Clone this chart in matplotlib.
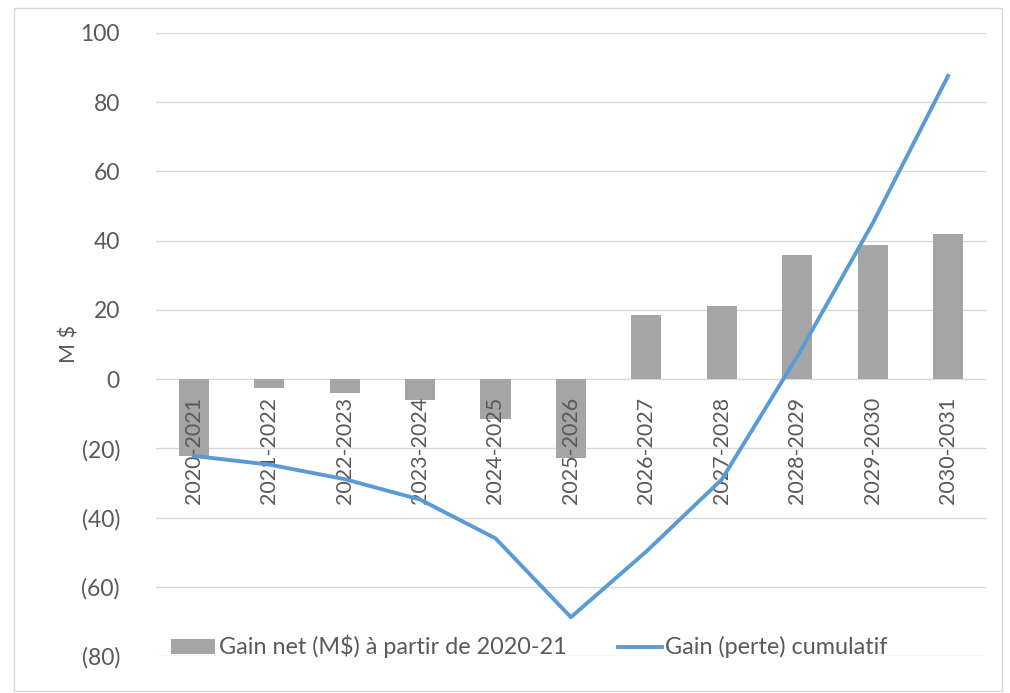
import matplotlib

matplotlib.use("Agg")
import matplotlib.pyplot as plt
from matplotlib.ticker import FuncFormatter

periods = [
    "2020-2021", "2021-2022", "2022-2023", "2023-2024", "2024-2025", "2025-2026",
    "2026-2027", "2027-2028", "2028-2029", "2029-2030", "2030-2031",
]
net_gain = [-22.2, -2.5, -4.0, -6.1, -11.5, -22.9, 18.6, 21.0, 35.8, 38.7, 41.8]
cumulative = [-22.2, -24.7, -28.9, -34.8, -46.0, -68.8, -49.8, -29.0, 6.5, 45.0, 87.6]
y_ticks = [-80, -60, -40, -20, 0, 20, 40, 60, 80, 100]

TEXT = "#595959"
FS = 15.5
plt.rcParams["font.family"] = ["Lato", "DejaVu Sans"]

fig = plt.figure(figsize=(10.1, 6.93), dpi=100)
ax = fig.add_axes([0.1545, 0.0534, 0.8215, 0.899])

x = list(range(len(periods)))
bars = ax.bar(x, net_gain, width=0.4, color="#A5A5A5",
              label="Gain net (M$) à partir de 2020-21", zorder=2)
(line,) = ax.plot(x, cumulative, color="#5B9BD5", linewidth=2.8,
                  label="Gain (perte) cumulatif", zorder=4)

ax.set_xlim(-0.5, len(periods) - 0.5)
ax.set_ylim(-80, 100)
ax.set_yticks(y_ticks)
ax.yaxis.set_major_formatter(
    FuncFormatter(lambda v, _: f"({abs(int(v))})" if v < 0 else f"{int(v)}")
)
ax.grid(axis="y", color="#D9D9D9", linewidth=1.0)
ax.set_axisbelow(True)
for s in ax.spines.values():
    s.set_visible(False)
ax.set_xticks([])
ax.tick_params(axis="y", length=0, pad=26, labelsize=16.5, colors=TEXT)

# category labels sit just under the zero line, above the bars
for i, p in enumerate(periods):
    ax.annotate(p, (i, 0), xytext=(0, -13), textcoords="offset points",
                rotation=90, ha="center", va="top", fontsize=FS, color=TEXT, zorder=3)

ax.set_ylabel("M $", fontsize=FS, color=TEXT, labelpad=1)

ax.legend(
    handles=[bars, line],
    loc="center",
    bbox_to_anchor=(0.45, 0.015),
    ncol=2,
    frameon=False,
    fontsize=16.8,
    labelcolor=TEXT,
    handlelength=1.9,
    handleheight=0.6,
    handletextpad=0.15,
    columnspacing=2.2,
)

fig.patches.append(
    plt.Rectangle((0.014, 0.003), 0.978, 0.986, transform=fig.transFigure,
                  fill=False, edgecolor="#D9D9D9", linewidth=1.0)
)

fig.savefig("out.png", dpi=100)
